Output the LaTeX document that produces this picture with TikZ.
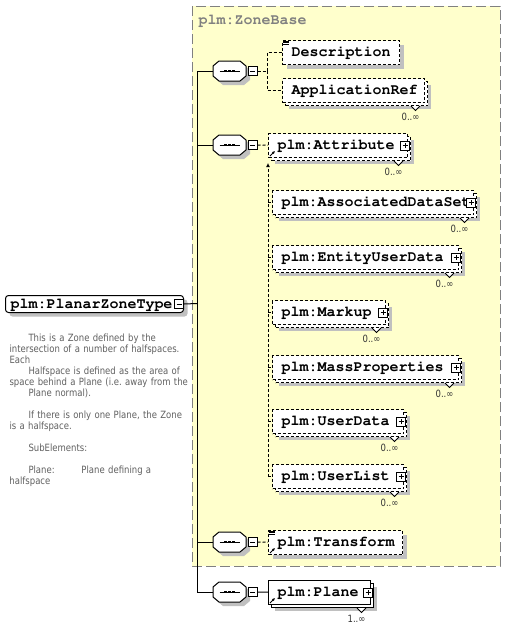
\documentclass[tikz,border=0pt]{standalone}
\usepackage[T1]{fontenc}
\usepackage{fontspec}
\usetikzlibrary{positioning,shadows,arrows.meta}

\newfontfamily\docfont{DejaVu Sans}[FakeStretch=0.85]
\newcommand\elemfont{\fontencoding{T1}\fontfamily{pcr}\fontseries{b}\fontsize{15}{15}\selectfont\hyphenpenalty=10000 }

\definecolor{baseyellow}{RGB}{255,255,204}
\definecolor{shadowgray}{RGB}{192,192,192}
\definecolor{docgray}{RGB}{96,96,96}
\definecolor{framegray}{RGB}{128,128,128}

\tikzset{
	elem/.style={draw, fill=white, font=\elemfont, anchor=north west, inner xsep=9pt, inner ysep=0pt, minimum height=24pt, text height=9pt, text depth=2pt, align=left},
	opt/.style={dash pattern=on 3pt off 2pt},
	single/.style={general shadow={fill=shadowgray, shadow xshift=4pt, shadow yshift=-4pt}},
	multi/.style={general shadow={fill=shadowgray, shadow xshift=6pt, shadow yshift=-6pt}, general shadow={draw, fill=white, #1, shadow xshift=3pt, shadow yshift=-3pt}},
	multi/.default=solid,
	seqbox/.style={inner sep=0pt, minimum width=33pt, minimum height=20pt},
	minusbox/.style={draw, fill=white, inner sep=0pt, minimum size=9pt, path picture={\draw ([xshift=2pt]path picture bounding box.west) -- ([xshift=-2pt]path picture bounding box.east);}},
	plusbox/.style={draw, fill=white, inner sep=0pt, minimum size=9pt, path picture={
		\draw ([xshift=2pt]path picture bounding box.west) -- ([xshift=-2pt]path picture bounding box.east);
		\draw ([yshift=2pt]path picture bounding box.south) -- ([yshift=-2pt]path picture bounding box.north);}},
	occurs/.style={font=\docfont\fontsize{10}{10}\selectfont, text=black!80, inner sep=0pt, anchor=north east},
}

\begin{document}
\begin{tikzpicture}[x=1pt, y=-1pt, line width=1pt]
	\useasboundingbox (0,0) rectangle (507,627);
	
	%Frame of the base type
	\draw[fill=baseyellow, draw=framegray, dash pattern=on 10pt off 4pt] (192,6) rectangle (500,566);
	\node[font=\elemfont, text=framegray, anchor=base west, inner sep=0pt] (zonebase) at (198,24) {plm:ZoneBase};
	
	%Root element and its documentation
	\node[elem, single, rounded corners=3pt, inner xsep=5pt, text width=168pt, minimum height=17pt, text height=10pt, text depth=1pt] (root) at (5,295) {plm:PlanarZoneType};
	\node[minusbox, anchor=east] (rootm) at (root.east) {};
	\node[font=\docfont\fontsize{10}{11}\selectfont\frenchspacing, text=docgray, align=left, text width=190pt, anchor=north west, inner sep=0pt] (doc) at (9,333) {%
		\hspace*{19pt}This is a Zone defined by the\\
		intersection of a number of halfspaces.\\
		Each\\
		\hspace*{19pt}Halfspace is defined as the area of\\
		space behind a Plane (i.e. away from the\\
		\hspace*{19pt}Plane normal).\\[11pt]
		\hspace*{19pt}If there is only one Plane, the Zone\\
		is a halfspace.\\[11pt]
		\hspace*{19pt}SubElements:\\[11pt]
		\hspace*{19pt}\makebox[53pt][l]{Plane:}Plane defining a\\
		halfspace};
	
	%Sequences on the trunk
	\foreach \s/\y in {seq1/71, seq2/145, seq3/542, seq4/592}{
		\node[seqbox] (\s) at (229.5,\y) {};
		\fill[shadowgray] ([xshift=4pt,yshift=-4pt]\s.center) ++(-16.5,-5) -- ++(6,-5) -- ++(21,0) -- ++(6,5) -- ++(0,10) -- ++(-6,5) -- ++(-21,0) -- ++(-6,-5) -- cycle;
		\draw[fill=white] (\s.center) ++(-16.5,-5) -- ++(6,-5) -- ++(21,0) -- ++(6,5) -- ++(0,10) -- ++(-6,5) -- ++(-21,0) -- ++(-6,-5) -- cycle;
		\node[minusbox, right=1pt of \s] (\s-m) {};
		\draw ([xshift=-10pt]\s.center) -- ([xshift=10pt]\s.center);
		\foreach \d in {-4,0,4}
		\fill ([xshift=\d pt]\s.center) +(-1.3,-1.3) rectangle +(1.3,1.3);
	}
	\coordinate (trunk) at (197,303.5);
	\draw (rootm.east) -- (trunk);
	\foreach \s in {seq1,seq2,seq3,seq4}
	\draw (\s.west) -| (trunk);
	
	%Elements of the first sequence
	\node[elem, opt, single, text width=99pt] (descr) at (282,40) {Description};
	\node[elem, opt, multi=opt, text width=124pt] (appref) at (282,78) {ApplicationRef};
	
	%Attribute and its substitutes
	\node[elem, opt, multi=opt, text width=121pt] (attr) at (268,133) {plm:Attribute};
	\foreach \e/\y/\w/\t in {assoc/190/183/AssociatedDataSet, entity/245/168/EntityUserData, markup/300/95/Markup, mass/355/168/MassProperties, userdata/409/113/UserData, userlist/464/113/UserList}
	\node[elem, opt, multi=opt, text width=\w pt] (\e) at (272,\y) {plm:\t};
	
	%Transform and Plane
	\node[elem, opt, single, text width=116pt] (transf) at (268,530) {plm:Transform};
	\node[elem, multi, text width=84pt] (plane) at (268,580) {plm:Plane};
	
	%Expand boxes
	\foreach \e in {attr,assoc,entity,markup,mass,userdata,userlist,plane}
	\node[plusbox, anchor=east] (\e-p) at ([xshift=2pt]\e.east) {};
	
	%Occurrence notches
	\foreach \e/\n in {appref/0, attr/0, assoc/0, entity/0, markup/0, mass/0, userdata/0, userlist/0, plane/1}{
		\draw[fill=white, line width=0.8pt] ([xshift=-14pt,yshift=-3pt]\e.south east) -- ++(4.5,4.5) -- ++(4.5,-4.5);
		\node[occurs] (\e-o) at ([xshift=-5pt,yshift=-10pt]\e.south east) {\n..∞};
	}
	
	%Simple content and reference marks
	\foreach \e in {descr,transf}
	\foreach \d in {1,2.8,4.6}
	\draw[line width=0.8pt] ([xshift=1pt,yshift=-\d pt]\e.north west) -- ++(6,0);
	\foreach \e in {attr,transf,plane}
	\draw[line width=0.8pt, -{Latex[length=3pt,width=3pt]}] ([xshift=2pt,yshift=2pt]\e.south west) -- ++(5,-5);
	
	%Connectors
	\coordinate (br1) at (267,71);
	\draw[opt] (seq1-m) -- (br1);
	\draw[opt] (br1) |- (descr);
	\draw[opt] (br1) |- (appref);
	\draw[opt] (seq2-m) -- (attr);
	\draw[opt, -{Latex[length=4pt,width=4pt]}] (userlist.west -| attr.west) -- ([yshift=-5pt]attr.south west);
	\foreach \e in {assoc,entity,markup,mass,userdata,userlist}
	\draw[opt] (\e.west -| attr.west) -- (\e);
	\draw[opt] (seq3-m) -- (transf);
	\draw (seq4-m) -- (plane);
	
\end{tikzpicture}
\end{document}
